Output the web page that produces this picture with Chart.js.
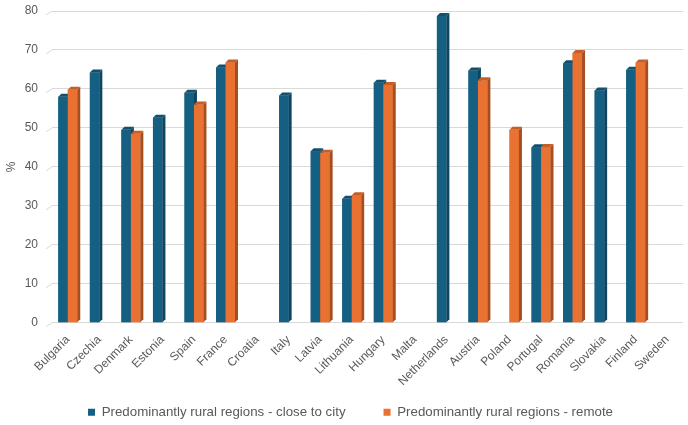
<!DOCTYPE html>
<html>
<head>
<meta charset="utf-8">
<script src="https://cdn.jsdelivr.net/npm/chart.js@4.4.0/dist/chart.umd.min.js"></script>
<style>
html,body{margin:0;padding:0;background:#fff;}
#wrap{width:688px;height:425px;position:relative;}
</style>
</head>
<body>
<div id="wrap"><canvas id="c" width="688" height="425"></canvas></div>
<script>
const categories = ["Bulgaria","Czechia","Denmark","Estonia","Spain","France","Croatia","Italy","Latvia","Lithuania","Hungary","Malta","Netherlands","Austria","Poland","Portugal","Romania","Slovakia","Finland","Sweden"];
const closeToCity = [58.0,64.2,49.5,52.6,59.0,65.5,null,58.3,44.0,31.8,61.6,null,78.7,64.7,null,45.0,66.6,59.6,64.9,null];
const remote      = [59.8,null,48.5,null,56.0,66.8,null,null,43.6,32.7,61.0,null,null,62.2,49.5,45.1,69.2,null,66.8,null];
const yTicks = [0,10,20,30,40,50,60,70,80];
const seriesNames = ["Predominantly rural regions - close to city","Predominantly rural regions - remote"];

const FONT = "'Liberation Sans', Arial, sans-serif";
const GREY = '#595959';
const front = ['#156082','#E97132'];
const side  = ['#0E4560','#A54E20'];
const topc  = ['#12506D','#C65E27'];
const D = 3;

const bar3d = {
  id:'bar3d',
  afterLayout(chart){
    if (chart.legend){ chart.legend.left += 7; chart.legend.right += 7; }
  },
  afterDatasetsDraw(chart){
    const ctx = chart.ctx;
    ctx.save();
    chart.data.datasets.forEach((ds,i)=>{
      const meta = chart.getDatasetMeta(i);
      meta.data.forEach((el,j)=>{
        if (ds.data[j]==null) return;
        const p = el.getProps(['x','y','base','width'],true);
        const l = p.x - p.width/2, r = p.x + p.width/2, t = p.y, b = p.base;
        ctx.fillStyle = front[i];
        ctx.fillRect(l, t, r-l, b-t);
        ctx.fillStyle = side[i];
        ctx.beginPath();
        ctx.moveTo(r,t); ctx.lineTo(r+D,t-D); ctx.lineTo(r+D,b-D); ctx.lineTo(r,b); ctx.closePath(); ctx.fill();
        ctx.fillStyle = topc[i];
        ctx.beginPath();
        ctx.moveTo(l,t); ctx.lineTo(l+D,t-D); ctx.lineTo(r+D,t-D); ctx.lineTo(r,t); ctx.closePath(); ctx.fill();
      });
    });
    ctx.restore();
  },
  beforeDatasetsDraw(chart){
    const ctx = chart.ctx, y = chart.scales.y, a = chart.chartArea;
    ctx.save();
    ctx.strokeStyle = '#D9D9D9'; ctx.lineWidth = 1;
    yTicks.forEach(v=>{
      const py = y.getPixelForValue(v);
      ctx.beginPath(); ctx.moveTo(a.left-6, py+4); ctx.lineTo(a.left, py); ctx.stroke();
    });
    ctx.restore();
  }
};

new Chart(document.getElementById('c'),{
  type:'bar',
  data:{
    labels:categories,
    datasets:[
      {label:seriesNames[0],data:closeToCity,backgroundColor:front[0],borderWidth:0},
      {label:seriesNames[1],data:remote,backgroundColor:front[1],borderWidth:0}
    ]
  },
  options:{
    responsive:false,
    animation:false,
    layout:{padding:{left:4,right:5,top:11,bottom:-4}},
    datasets:{bar:{categoryPercentage:0.6,barPercentage:1.0}},
    scales:{
      x:{
        grid:{display:false},
        border:{display:false},
        ticks:{color:GREY,font:{family:FONT,size:12},minRotation:45,maxRotation:45,autoSkip:false,padding:2},
        afterFit(s){ s.height = 45; s.paddingTop = 0; },
        afterUpdate(s){ s._computeLabelArea = function(){ return undefined; }; }
      },
      y:{
        min:0,max:80,
        afterBuildTicks(s){ s.ticks = yTicks.map(v=>({value:v})); },
        grid:{color:'#D9D9D9',lineWidth:1,drawTicks:false},
        border:{display:false},
        ticks:{color:GREY,font:{family:FONT,size:12},padding:14},
        title:{display:true,text:'%',color:GREY,font:{family:FONT,size:12},padding:{top:0,bottom:4}},
        afterFit(s){ s.width = 48; s.paddingTop = 0; }
      }
    },
    plugins:{
      legend:{
        position:'bottom',
        labels:{color:GREY,font:{family:FONT,size:13.3},boxWidth:7,boxHeight:7,padding:38}
      },
      tooltip:{enabled:false}
    }
  },
  plugins:[bar3d]
});
</script>
</body>
</html>
